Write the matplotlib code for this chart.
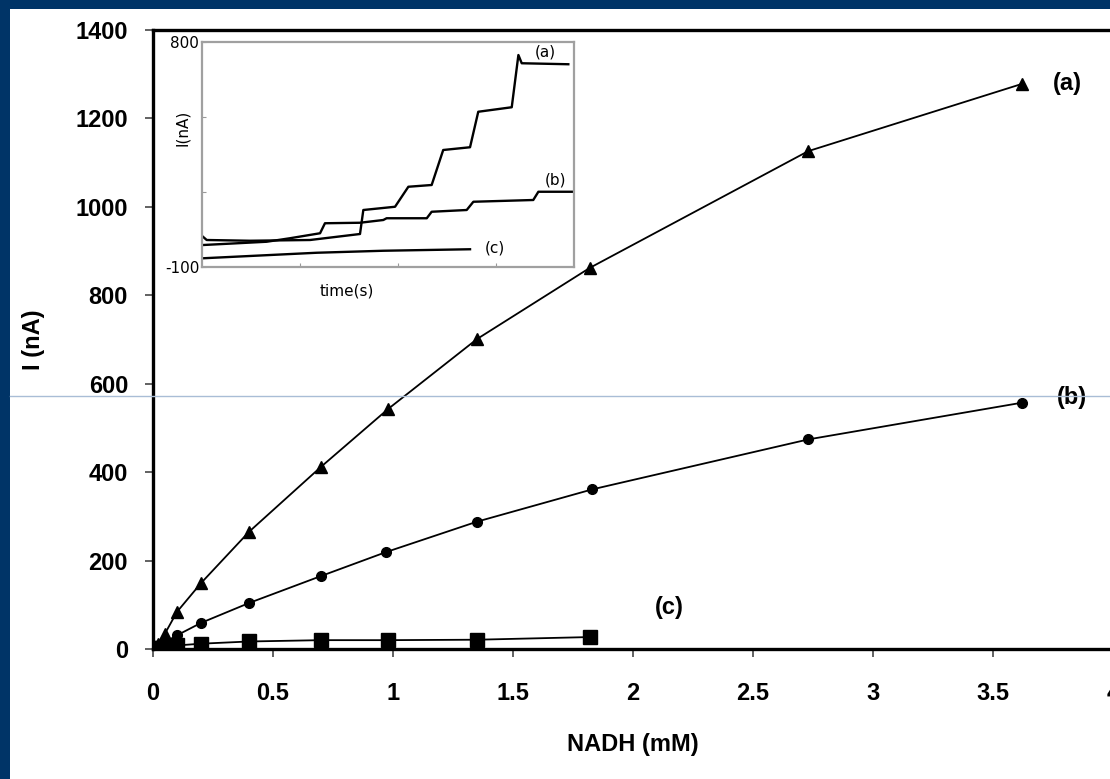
import matplotlib.pyplot as plt
from matplotlib.patches import Rectangle
from matplotlib.lines import Line2D

# main calibration curves, NADH (mM) vs current (nA)
x_a = [0.01, 0.02, 0.05, 0.1, 0.2, 0.4, 0.7, 0.98, 1.35, 1.82, 2.73, 3.62]
i_a = [5, 12, 35, 84, 149, 265, 412, 543, 701, 862, 1126, 1278]
x_b = [0.01, 0.02, 0.05, 0.1, 0.2, 0.4, 0.7, 0.97, 1.35, 1.83, 2.73, 3.62]
i_b = [3, 6, 15, 31, 59, 104, 165, 219, 288, 361, 474, 557]
x_c = [0.01, 0.02, 0.05, 0.1, 0.2, 0.4, 0.7, 0.98, 1.35, 1.82]
i_c = [2, 3, 5, 8, 12, 17, 20, 20, 21, 27]

# inset amperometric traces (arbitrary time units)
t_a = [5, 24, 245, 552, 807, 824, 986, 1054, 1173, 1232, 1369, 1411, 1582, 1616, 1633, 1871]
y_a = [21, 8, 5, 8, 32, 128, 141, 221, 228, 368, 379, 521, 539, 748, 715, 711]
t_b = [7, 330, 449, 603, 628, 807, 926, 943, 1148, 1173, 1352, 1386, 1692, 1718, 1896]
y_b = [-12, 1, 15, 35, 75, 77, 88, 95, 95, 121, 128, 161, 168, 201, 201]
t_c = [7, 586, 926, 1369]
y_c = [-65, -43, -35, -29]

xticks = [0, 0.5, 1, 1.5, 2, 2.5, 3, 3.5, 4]
xtick_labels = ["0", "0.5", "1", "1.5", "2", "2.5", "3", "3.5", "4"]
yticks = [0, 200, 400, 600, 800, 1000, 1200, 1400]

W, H = 1110, 779
fig = plt.figure(figsize=(W / 100, H / 100), dpi=100)
fig.patch.set_facecolor("#003467")
fig.patches.append(Rectangle((10 / W, 0), 1, (H - 9) / H, transform=fig.transFigure,
                             facecolor="white", edgecolor="none", zorder=-10))
fig.lines.append(Line2D([10 / W, 1], [(H - 396) / H] * 2, transform=fig.transFigure,
                        color="#a9bdd6", lw=1, zorder=5))

bold = dict(family="Liberation Sans", weight="bold")
fs = 17

ax = fig.add_axes([153 / W, (H - 649) / H, 960 / W, 619 / H])
ax.set_facecolor("none")
ax.plot(x_a, i_a, "-^", color="black", lw=1.3, ms=9)
ax.plot(x_b, i_b, "-o", color="black", lw=1.3, ms=7)
ax.plot(x_c, i_c, "-s", color="black", lw=1.3, ms=10)
ax.set_xlim(0, 4)
ax.set_ylim(0, 1400)
ax.set_xticks(xticks)
ax.set_xticklabels(xtick_labels, fontsize=fs, **bold)
ax.set_yticks(yticks)
ax.set_yticklabels([str(v) for v in yticks], fontsize=fs, **bold)
ax.tick_params(axis="y", length=6, width=1.3, color="#555555", pad=12)
ax.tick_params(axis="x", length=6, width=1.3, color="#555555", pad=18)
for s in ["left", "bottom", "top"]:
    ax.spines[s].set_linewidth(2.4)
ax.spines["right"].set_visible(False)
ax.set_xlabel("NADH (mM)", fontsize=fs, labelpad=20, **bold)
ax.set_ylabel("I (nA)", fontsize=fs, labelpad=22, **bold)
ax.text(3.81, 1278, "(a)", fontsize=fs, ha="center", va="center", **bold)
ax.text(3.83, 568, "(b)", fontsize=fs, ha="center", va="center", **bold)
ax.text(2.15, 93, "(c)", fontsize=fs, ha="center", va="center", **bold)

ins = fig.add_axes([202 / W, (H - 267) / H, 372 / W, 225 / H])
ins.set_facecolor("white")
ins.plot(t_a, y_a, color="black", lw=1.7)
ins.plot(t_b, y_b, color="black", lw=1.7)
ins.plot(t_c, y_c, color="black", lw=1.7)
ins.set_xlim(0, 1900)
ins.set_ylim(-100, 800)
ins.set_xticks([500, 1000, 1500])
ins.set_xticklabels([])
ins.set_yticks([-100, 200, 500, 800])
ins.set_yticklabels(["-100", "", "", "800"], fontsize=11, family="DejaVu Sans")
ins.tick_params(direction="in", length=3, color="#999999", pad=2)
for s in ins.spines.values():
    s.set_color("#a0a0a0")
    s.set_linewidth(1.6)
ins.set_xlabel("time(s)", fontsize=11, family="DejaVu Sans")
ins.xaxis.set_label_coords(0.39, -0.075)
ins.set_ylabel("I(nA)", fontsize=11, family="DejaVu Sans")
ins.yaxis.set_label_coords(-0.032, 0.62)
ins.text(1752, 760, "(a)", fontsize=11, ha="center", va="center", family="DejaVu Sans")
ins.text(1803, 248, "(b)", fontsize=11, ha="center", va="center", family="DejaVu Sans")
ins.text(1497, -24, "(c)", fontsize=11, ha="center", va="center", family="DejaVu Sans")

fig.savefig("out.png", dpi=100)
